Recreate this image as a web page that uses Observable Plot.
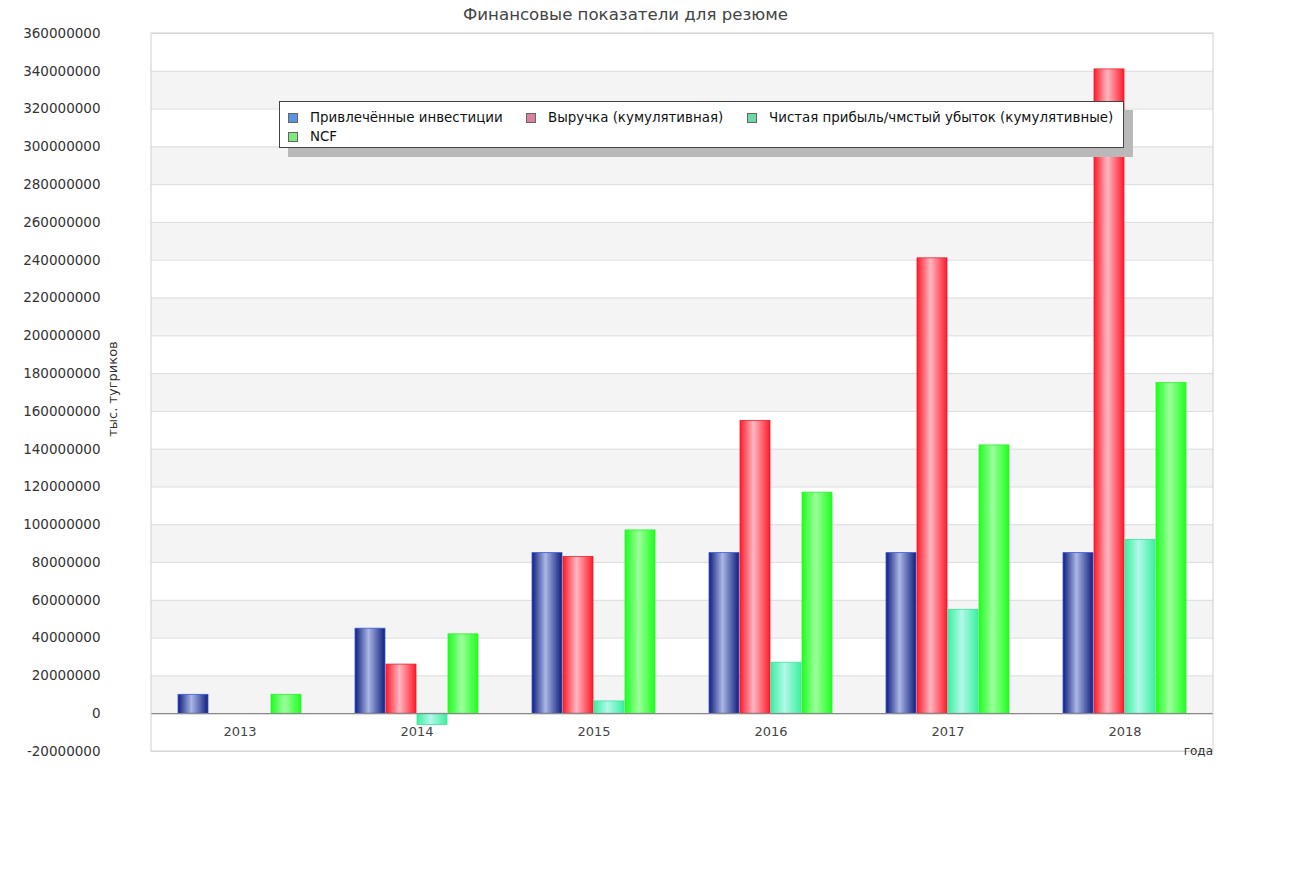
<!DOCTYPE html>
<html><head><meta charset="utf-8">
<script src="https://cdn.jsdelivr.net/npm/d3@7"></script>
<script src="https://cdn.jsdelivr.net/npm/@observablehq/plot@0.6"></script>
<style>
body{margin:0;background:#fff;font-family:"DejaVu Sans",sans-serif;}
#wrap{position:relative;width:1315px;height:877px;overflow:hidden;}
#wrap svg{position:absolute;left:0;top:0;}
.title{position:absolute;left:0;width:1251px;top:5px;text-align:center;font-size:16.6px;color:#444;}
.ylab{position:absolute;left:112px;top:389px;transform:translate(-50%,-50%) rotate(-90deg);white-space:nowrap;font-size:13px;color:#333;}
.xlab{position:absolute;right:102px;top:744px;font-size:12px;color:#333;}
.legend{position:absolute;left:279px;top:101px;width:843px;height:45px;background:#fff;border:1px solid #444;box-shadow:9px 9px 0 #b9b9b9;}
.item{position:absolute;font-size:13.4px;line-height:19px;color:#111;white-space:nowrap;}
.sw{display:inline-block;width:8px;height:8px;border:1px solid #666;margin-right:12px;vertical-align:-1px;}
</style></head><body><div id="wrap"></div>
<script>
const years = ["2013", "2014", "2015", "2016", "2017", "2018"];
const series = ["Привлечённые инвестиции", "Выручка (кумулятивная)", "Чистая прибыль/чмстый убыток (кумулятивные)", "NCF"];
const invest = [10e6, 45e6, 85e6, 85e6, 85e6, 85e6];
const revenue = [0, 26e6, 83e6, 155e6, 241e6, 341e6];
const netProfit = [0, -6e6, 6.5e6, 27e6, 55e6, 92e6];
const ncf = [10e6, 42e6, 97e6, 117e6, 142e6, 175e6];
const yTicks = d3.range(-20e6, 360e6 + 1, 20e6);
const yLabel = "тыс. тугриков";
const xLabel = "года";
const title = "Финансовые показатели для резюме";

const swatchColors = ["#5b93e0", "#d9809f", "#6fd6a6", "#7fe87f"];
const grads = [
  ["#101f80", "#aab6e4"],
  ["#ff1a2a", "#ffb8c2"],
  ["#3cf0a0", "#b2f8e8"],
  ["#1eff1e", "#9cff9c"]
];
const strokes = ["#3a5ad8", "#e8202e", "#40e0a0", "#30f030"];

const valuesBySeries = [invest, revenue, netProfit, ncf];
const rows = [];
series.forEach((s, k) => years.forEach((y, i) => rows.push({year: y, series: s, value: valuesBySeries[k][i]})));

const stripes = yTicks.filter(t => t >= 0 && t < 360e6 && Math.round(t / 20e6) % 2 === 0).map(t => ({y1: t, y2: t + 20e6}));

const plot = Plot.plot({
  width: 1315, height: 877,
  marginLeft: 151, marginRight: 102, marginTop: 33, marginBottom: 126,
  style: {fontFamily: "DejaVu Sans", fontSize: "13.5px", color: "#333", background: "transparent", overflow: "visible"},
  fx: {domain: years, padding: 0, axis: null},
  x: {domain: series, paddingInner: 0.04, paddingOuter: 0.84, axis: null},
  y: {domain: [-20e6, 360e6], axis: null},
  marks: [
    Plot.rect(stripes, {y1: "y1", y2: "y2", fill: "#f4f4f4"}),
    Plot.ruleY(yTicks, {stroke: "#dcdcdc"}),
    ...series.map((s, k) => Plot.barY(rows.filter(d => d.series === s && d.value !== 0), {
      fx: "year", x: "series", y: "value",
      fill: `url(#g${k})`, stroke: strokes[k], strokeWidth: 0.8
    })),
    Plot.ruleY([0], {stroke: "#8a8a8a", strokeWidth: 1.2}),
    Plot.text(years, {fx: d => d, y: -9.5e6, text: d => d, fill: "#444", fontSize: 13}),
    Plot.axisY(yTicks, {tickSize: 0, tickPadding: 51, tickFormat: d => String(d), label: null, fill: "#333"})
  ]
});

const svg = d3.select(plot);
const defs = svg.insert("defs", ":first-child");
grads.forEach(([edge, mid], k) => {
  const g = defs.append("linearGradient").attr("id", `g${k}`).attr("x1", 0).attr("x2", 1).attr("y1", 0).attr("y2", 0);
  g.append("stop").attr("offset", "0%").attr("stop-color", edge);
  g.append("stop").attr("offset", "45%").attr("stop-color", mid);
  g.append("stop").attr("offset", "100%").attr("stop-color", edge);
});
const ys = plot.scale("y");
const yTop = ys.apply(360e6), yBottom = ys.apply(-20e6);
svg.append("rect").attr("x", 151).attr("y", yTop).attr("width", 1315 - 151 - 102).attr("height", yBottom - yTop)
  .attr("fill", "none").attr("stroke", "#cfcfcf");

const wrap = document.getElementById("wrap");
wrap.appendChild(plot);
const add = (cls, txt) => { const d = document.createElement("div"); d.className = cls; d.textContent = txt; wrap.appendChild(d); return d; };
add("title", title);
add("ylab", yLabel);
add("xlab", xLabel);
const leg = document.createElement("div"); leg.className = "legend"; wrap.appendChild(leg);
const pos = [[8, 6], [246, 6], [467, 6], [8, 25]];
series.forEach((s, k) => {
  const it = document.createElement("div"); it.className = "item";
  it.style.left = pos[k][0] + "px"; it.style.top = pos[k][1] + "px";
  const sw = document.createElement("span"); sw.className = "sw"; sw.style.background = swatchColors[k];
  it.appendChild(sw); it.appendChild(document.createTextNode(s));
  leg.appendChild(it);
});
</script></body></html>
